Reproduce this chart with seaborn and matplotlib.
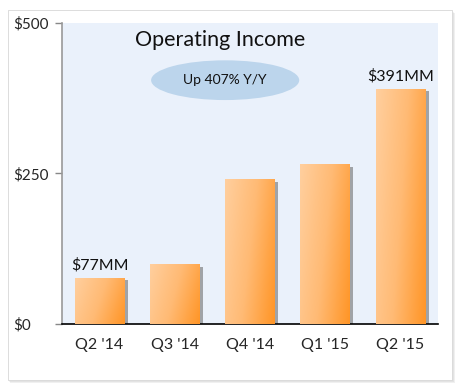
import numpy as np
import pandas as pd
import matplotlib
matplotlib.use("Agg")
import matplotlib.pyplot as plt
import matplotlib.patheffects as pe
from matplotlib.patches import Ellipse, FancyBboxPatch
from matplotlib.colors import LinearSegmentedColormap
import seaborn as sns

# Data
quarters = ["Q2 '14", "Q3 '14", "Q4 '14", "Q1 '15", "Q2 '15"]
income = [77, 100, 241, 265, 391]
bar_labels = ["$77MM", "", "", "", "$391MM"]
y_ticks = [0, 250, 500]
y_tick_labels = ["$0", "$250", "$500"]

df = pd.DataFrame({"quarter": quarters, "income": income})

sns.set_style("white")
plt.rcParams["font.family"] = ["Lato", "DejaVu Sans"]

fig = plt.figure(figsize=(4.61, 3.88), dpi=100)

# white card with soft shadow
for i, a in enumerate([0.05, 0.05, 0.06]):
    fig.patches.append(FancyBboxPatch((0.018 + 0.002 * i, 0.018 - 0.003 * i), 0.964, 0.955,
                                      boxstyle="square,pad=0", transform=fig.transFigure,
                                      facecolor="black", alpha=a, edgecolor="none", zorder=-2))
fig.patches.append(FancyBboxPatch((0.017, 0.02), 0.963, 0.955, boxstyle="square,pad=0",
                                  transform=fig.transFigure, facecolor="white",
                                  edgecolor="#d8d8d8", linewidth=0.6, zorder=-1))

ax = fig.add_axes([0.1345, 0.165, 0.8155, 0.7757])
ax.set_zorder(2)
ax.set_facecolor("#eaf1fb")

sns.barplot(data=df, x="quarter", y="income", color="#ffb060", width=0.66,
            saturation=1, ax=ax, zorder=2)

# bar fill: light peach at top-left to deep orange at bottom-right
cmap = LinearSegmentedColormap.from_list("bar", ["#ffcf9e", "#ffba74", "#ff9526"])
gx, gy = np.meshgrid(np.linspace(0, 1, 64), np.linspace(0, 1, 64))
grad = 0.75 * gx + 0.25 * gy

for p in ax.patches:
    p.set_edgecolor("none")
    p.set_path_effects([pe.SimplePatchShadow(offset=(2.5, -2), shadow_rgbFace="#707070", alpha=0.6),
                        pe.Normal()])
    x0, y0 = p.get_x(), p.get_y()
    w, h = p.get_width(), p.get_height()
    im = ax.imshow(grad, cmap=cmap, extent=[x0, x0 + w, y0, y0 + h], origin="upper",
                   aspect="auto", zorder=3)
    im.set_clip_path(p)

for p, lab in zip(ax.patches, bar_labels):
    if lab:
        ax.text(p.get_x() + p.get_width() / 2, p.get_height() + 8, lab,
                ha="center", va="bottom", fontsize=11.5, color="#111111", zorder=5)

ax.set_xlim(-0.5, len(quarters) - 0.5)
ax.set_ylim(0, 500)
ax.set_aspect("auto")

ax.add_patch(Ellipse((1.67, 405), 1.97, 66, facecolor="#bcd5ec", edgecolor="none", zorder=4))
ax.text(1.67, 405, "Up 407% Y/Y", ha="center", va="center", fontsize=10, color="#111111", zorder=5)
ax.text(1.6, 472, "Operating Income", ha="center", va="center", fontsize=15.5,
        color="#111111", zorder=5)

ax.set_yticks(y_ticks)
ax.set_yticklabels(y_tick_labels, fontsize=11)
ax.set_xticks(np.arange(len(quarters)))
ax.set_xticklabels(quarters, fontsize=11.5)
ax.set_xticks(np.arange(len(quarters) - 1) + 0.5, minor=True)
ax.tick_params(axis="x", which="major", length=0, pad=10)
ax.tick_params(axis="x", which="minor", length=5, width=1, color="black", direction="out")
ax.tick_params(axis="y", length=5, width=1, color="#888888", direction="out", pad=30, left=True)
for lab in ax.get_yticklabels():
    lab.set_horizontalalignment("left")

ax.set_xlabel("")
ax.set_ylabel("")
for s in ["top", "right"]:
    ax.spines[s].set_visible(False)
ax.spines["left"].set_color("#999999")
ax.spines["left"].set_linewidth(1.2)
ax.spines["bottom"].set_color("black")
ax.spines["bottom"].set_linewidth(1.2)

fig.savefig("out.png", dpi=100)
